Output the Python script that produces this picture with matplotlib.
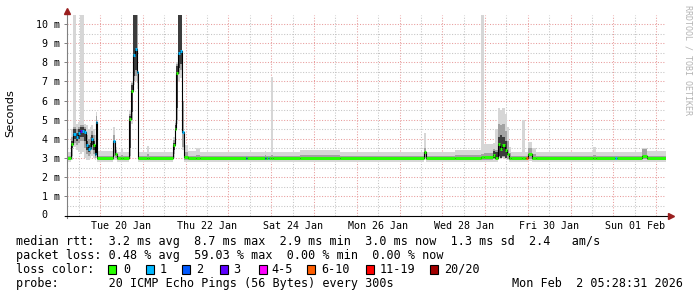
import numpy as np
import matplotlib
matplotlib.use("Agg")
import matplotlib.pyplot as plt
import matplotlib.dates as mdates
from matplotlib.collections import LineCollection
from matplotlib.patches import Rectangle
from datetime import datetime, timedelta

# ---------------- data ----------------
END = datetime(2026, 2, 2, 5, 28, 31)
SPAN_DAYS = 14
START = END - timedelta(days=SPAN_DAYS)

N = None
hours = [0.0, 2.5, 3.4, 5.0, 6.2, 7.3, 8.4, 9.8, 10.7, 11.8, 12.9, 13.7, 14.6, 15.7, 16.3, 17.1,
         25.8, 27.2, 28.0, 30.3, 31.4, 34.8, 35.9, 37.0, 38.1, 39.0, 40.1, 44.9, 46.0,
         59.4, 60.5, 61.4, 62.2, 63.4, 64.5, 65.6, 67.8, 72.3, 74.6,
         100.4, 101.2, 111.0, 111.9, 112.7, 113.5, 114.4, 115.8, 130.6, 153.1,
         200.5, 201.6, 217.6, 232.4, 233.8, 238.9, 240.3, 241.7, 243.1, 244.2, 245.6, 247.0,
         248.1, 248.9, 255.4, 256.8, 257.6, 258.5, 260.7, 263.0, 294.9, 296.9,
         307.5, 308.3, 322.4, 325.4, 336.0]
median_ms = [3.0, 3.75, 4.28, 4.1, 4.3, 4.4, 4.4, 4.35, 3.66, 3.45, 3.55, 4.0, 3.7, 3.2, 4.9, 3.0,
             3.87, 3.2, 3.0, 3.0, 3.0, 5.06, 6.5, 8.38, 8.7, 7.5, 3.0, 3.0, 3.0,
             3.66, 4.54, 7.45, 8.46, 8.6, 4.35, 3.05, 3.0, 3.0, 3.0,
             3.0, 3.0, 3.0, 3.0, 3.0, 3.0, 3.0, 3.0, 3.0, 3.0,
             3.3, 3.0, 3.0, 3.05, 3.05, 3.18, 3.0, 3.75, 3.49, 3.7, 3.4, 3.2,
             3.0, 3.0, 3.0, 3.0, 3.0, 3.2, 3.0, 3.0, 3.0, 3.0,
             3.0, 3.0, 3.1, 3.0, 3.0]
loss_bin = [0, 0, 1, 1, 1, 3, 1, 1, 1, 1, 1, 1, 0, 1, 1, 0,
            1, 0, 0, 0, 0, 0, 0, 1, 1, 1, 0, 0, 0,
            0, 0, 0, 1, 1, 1, 0, 0, 0, 0,
            2, 0, 2, 0, 1, 0, 0, 0, 0, 0,
            0, 0, 0, 0, 0, 0, 0, 0, 0, 0, 0, 0,
            0, 0, 0, 0, 5, 0, 0, 0, 0, 0,
            1, 0, 0, 0, 0]
smoke_min = [2.8, 2.9, 3.6, 3.4, 3.3, 3.2, 3.3, 3.0, 2.9, 2.9, 3.0, 3.1, 3.0, 2.9, 3.0, 2.8,
             2.9, 2.9, 2.8, 2.8, 2.8, 3.0, 4.8, 6.8, 7.0, 6.6, 2.8, 2.8, 2.8,
             3.0, 3.8, 4.8, 7.0, 7.2, 3.4, 2.8, 2.78, 2.78, 2.78,
             2.78, 2.78, 2.78, 2.78, 2.78, 2.78, 2.78, 2.78, 2.78, 2.78,
             2.9, 2.78, 2.78, 2.8, 2.8, 2.8, 2.8, 3.0, 2.95, 3.0, 2.95, 2.9,
             2.8, 2.78, 2.78, 2.78, 2.78, 2.85, 2.8, 2.78, 2.78, 2.78,
             2.78, 2.78, 2.8, 2.78, 2.78]
smoke_max = [3.3, 4.5, 10.5, 4.8, 4.9, 10.5, 10.5, 4.8, 4.7, 4.5, 4.6, 4.7, 4.5, 4.2, 5.4, 3.35,
             4.6, 3.6, 3.3, 3.55, 3.3, 5.5, 7.0, 10.5, 10.5, 10.5, 3.3, 3.65, 3.3,
             4.1, 5.0, 8.0, 10.5, 10.5, 6.0, 3.66, 3.35, 3.55, 3.3,
             3.3, 3.3, 3.35, 3.3, 3.3, 3.3, 7.25, 3.3, 3.4, 3.3,
             4.3, 3.3, 3.4, 10.45, 3.75, 3.8, 4.5, 5.6, 5.5, 5.6, 5.3, 4.6,
             3.6, 3.3, 5.0, 3.3, 3.3, 3.85, 3.5, 3.3, 3.6, 3.3,
             3.3, 3.3, 3.55, 3.35, 3.35]
smoke_q1 = [2.9, 3.1, 3.8, 3.7, 3.8, 3.9, 3.9, 3.5, 3.2, 3.1, 3.2, 3.4, 3.2, 3.0, 3.3, 2.9,
            3.1, 3.0, 2.9, 2.9, 2.9, 3.1, 5.0, 7.0, 7.3, 6.9, 2.9, 2.9, 2.9,
            3.2, 4.0, 5.0, 7.4, 7.6, 3.6, 2.9, 2.9, 2.9, 2.9,
            2.9, 2.9, 2.9, 2.9, 2.9, 2.9, 2.9, 2.9, 2.9, 2.9,
            3.0, 2.9, 2.9, 2.9, 2.9, 2.95, 2.95, 3.05, 3.0, 3.05, 3.0, 2.95,
            2.9, 2.9, 2.9, 2.9, 2.9, 2.95, 2.9, 2.9, 2.9, 2.9,
            2.9, 2.9, 2.95, 2.9, 2.9]
smoke_q3 = [3.1, 4.1, 4.6, 4.5, 4.6, 4.7, 4.7, 4.6, 4.2, 4.0, 4.1, 4.4, 4.2, 3.7, 5.2, 3.12,
            4.2, 3.4, 3.1, 3.15, 3.1, 5.3, 6.9, 10.5, 10.5, 10.5, 3.12, 3.2, 3.12,
            3.95, 4.85, 7.9, 10.5, 10.5, 6.0, 3.3, 3.12, 3.15, 3.12,
            3.12, 3.12, 3.15, 3.12, 3.12, 3.12, 3.15, 3.12, 3.15, 3.12,
            3.55, 3.12, 3.15, 3.2, 3.25, 3.45, 3.4, 4.8, 4.7, 4.8, 4.4, 3.9,
            3.25, 3.12, 3.12, 3.12, 3.12, 3.5, 3.2, 3.12, 3.15, 3.12,
            3.12, 3.12, 3.45, 3.12, 3.12]
core_lo = [N, 3.5, 4.0, 3.9, 4.0, 4.1, 4.1, 3.9, 3.4, 3.3, 3.4, 3.7, 3.4, 3.1, 4.0, N,
           3.3, N, N, N, N, 3.5, 5.4, 7.3, 7.6, 7.1, N, N, N,
           3.4, 4.2, 5.6, 7.7, 7.9, 3.9, N, N, N, N,
           N, N, N, N, N, N, N, N, N, N,
           3.05, N, N, N, N, 3.0, 3.0, 3.1, 3.0, 3.1, 3.0, 3.0,
           N, N, N, N, N, N, N, N, N, N,
           N, N, N, N, N]
core_hi = [N, 3.9, 4.5, 4.3, 4.5, 4.6, 4.6, 4.5, 3.9, 3.7, 3.8, 4.2, 3.9, 3.5, 5.0, N,
           4.0, N, N, N, N, 5.2, 6.8, 10.5, 10.5, 10.5, N, N, N,
           3.8, 4.7, 7.8, 10.5, 10.5, 5.9, N, N, N, N,
           N, N, N, N, N, N, N, N, N, N,
           3.5, N, N, N, N, 3.35, 3.3, 4.1, 4.2, 4.1, 3.9, 3.6,
           N, N, N, N, N, N, N, N, N, N,
           N, N, N, N, N]

loss_labels = ["0", "1", "2", "3", "4-5", "6-10", "11-19", "20/20"]
loss_colors = ["#26ff00", "#00b8ff", "#0059ff", "#5e00ff", "#ff00ff", "#ff5e00", "#ff0000", "#a10000"]

y_ticks = list(range(0, 11))
y_tick_labels = ["", "1 m", "2 m", "3 m", "4 m", "5 m", "6 m", "7 m", "8 m", "9 m", "10 m"]
label_days = ["2026-01-20", "2026-01-22", "2026-01-24", "2026-01-26",
              "2026-01-28", "2026-01-30", "2026-02-01"]

stats_line1 = "median rtt:  3.2 ms avg  8.7 ms max  2.9 ms min  3.0 ms now  1.3 ms sd  2.4   am/s"
stats_line2 = "packet loss: 0.48 % avg  59.03 % max  0.00 % min  0.00 % now"
probe_text = "probe:       20 ICMP Echo Pings (56 Bytes) every 300s"
stamp_text = "Mon Feb  2 05:28:31 2026"

# ---------------- figure ----------------
W, H = 697, 297
fig = plt.figure(figsize=(W / 100, H / 100), dpi=100)
fig.patch.set_facecolor("white")

left_px, right_px, zero_px, top_px = 67, 666, 215.5, 15
ax = fig.add_axes([left_px / W, 1 - zero_px / H, (right_px - left_px) / W, (zero_px - top_px) / H])
ax.set_facecolor("white")
YMAX = 10.47
ax.set_ylim(0, YMAX)
x0, x1 = mdates.date2num(START), mdates.date2num(END)
ax.set_xlim(x0, x1)

MONO = "DejaVu Sans Mono"

# grid
day = datetime(START.year, START.month, START.day)
while day <= END:
    for hh, col in ((0, "#e89a9a"), (12, "#c4c4c4")):
        d = day + timedelta(hours=hh)
        if START < d < END:
            ax.axvline(mdates.date2num(d), color=col, lw=0.75, ls=(0, (1, 1.6)), zorder=0.5)
    day += timedelta(days=1)
for v in np.arange(0.5, YMAX, 0.5):
    col = "#e89a9a" if abs(v - round(v)) < 1e-6 else "#c4c4c4"
    ax.axhline(v, color=col, lw=0.75, ls=(0, (1, 1.6)), zorder=0.5)

# smoke
t = np.array([mdates.date2num(START + timedelta(hours=h)) for h in hours])
smin = np.array(smoke_min, float); smax = np.array(smoke_max, float)
q1 = np.array(smoke_q1, float); q3 = np.array(smoke_q3, float)
clo = np.array(core_lo, dtype=float); chi = np.array(core_hi, dtype=float)
med = np.array(median_ms, float)

ax.fill_between(t, smin, smax, step="post", color="#d6d6d6", lw=0, zorder=1)
ax.fill_between(t, q1, q3, step="post", color="#a2a2a2", lw=0, zorder=1.2)
ax.fill_between(t, clo, chi, step="post", color="#3c3c3c", lw=0, zorder=1.4)

# median
ax.step(t, med, where="post", color="#000000", lw=0.8, zorder=2)
segs, cols = [], []
for i in range(len(t) - 1):
    segs.append([(t[i], med[i]), (t[i + 1], med[i])])
    cols.append(loss_colors[loss_bin[i]])
ax.add_collection(LineCollection(segs, colors=cols, linewidths=2.1, capstyle="butt", zorder=3))

# axes / ticks
for s in ax.spines.values():
    s.set_visible(False)
ax.set_yticks(y_ticks)
ax.set_yticklabels(y_tick_labels, fontfamily=MONO, fontsize=7.2)
ax.tick_params(axis="y", length=2.2, width=0.7, color="#808080", pad=3.2)
ax.annotate("0", xy=(0, 0), xycoords=("axes fraction", "data"), xytext=(-14.0, 0),
            textcoords="offset points", ha="right", va="center", fontfamily=MONO, fontsize=7.2)
label_pos = [mdates.date2num(datetime.strptime(d, "%Y-%m-%d") + timedelta(hours=12)) for d in label_days]
ax.set_xticks(label_pos)
ax.set_xticklabels([datetime.strptime(d, "%Y-%m-%d").strftime("%a %d %b") for d in label_days],
                   fontfamily=MONO, fontsize=7.2)
ax.tick_params(axis="x", length=0, pad=4.0)

ax.plot([0, 0], [-0.012, 1.02], transform=ax.transAxes, color="#808080", lw=0.8, clip_on=False, zorder=5)
ax.plot([-0.004, 1.006], [0, 0], transform=ax.transAxes, color="#000000", lw=0.8, clip_on=False, zorder=5)
ax.plot([0], [1.0185], transform=ax.transAxes, marker="^", ms=4.6, color="#9a1f1f", mec="#9a1f1f",
        clip_on=False, zorder=6)
ax.plot([1.0083], [0], transform=ax.transAxes, marker=">", ms=4.6, color="#9a1f1f", mec="#9a1f1f",
        clip_on=False, zorder=6)

# side texts
fig.text(10 / W, 1 - 113 / H, "Seconds", rotation=90, ha="center", va="center",
         fontfamily="DejaVu Sans", fontsize=8.2)
fig.text(688 / W, 1 - 5 / H, "RRDTOOL / TOBI OETIKER", rotation=270, ha="center", va="top",
         fontfamily=MONO, fontsize=6.0, color="#b4b4b4")

# legend / stats
FS = 8.5
def ptext(x, y, s, **kw):
    fig.text(x / W, 1 - y / H, s, fontfamily=MONO, fontsize=FS, va="center", **kw)

ptext(16, 241.3, stats_line1)
ptext(16, 255.3, stats_line2)
ptext(16, 269.3, "loss color:")
box_x = [108, 145.5, 182, 219.5, 259, 307, 365.5, 430]
txt_x = [123, 159.5, 196, 233, 271, 321, 379.5, 444.5]
for lab, col, bx, tx in zip(loss_labels, loss_colors, box_x, txt_x):
    fig.add_artist(Rectangle((bx / W, 1 - 273.5 / H), 8 / W, 8.5 / H, transform=fig.transFigure,
                             facecolor=col, edgecolor="black", lw=0.8))
    ptext(tx, 269.3, lab)
ptext(16, 283.7, probe_text)
ptext(683, 283.7, stamp_text, ha="right")

fig.savefig("out.png", dpi=100)
